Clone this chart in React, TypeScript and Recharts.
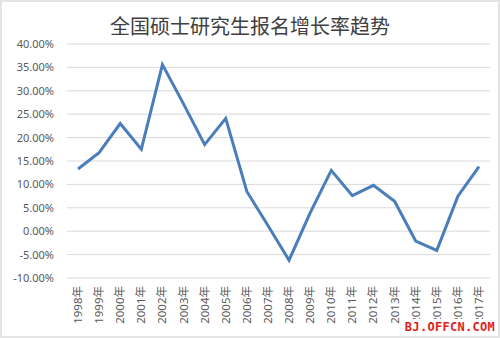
import React from "react";
import { LineChart, Line, XAxis, YAxis, CartesianGrid } from "recharts";

const years = [
  "1998年", "1999年", "2000年", "2001年", "2002年", "2003年", "2004年", "2005年",
  "2006年", "2007年", "2008年", "2009年", "2010年", "2011年", "2012年", "2013年",
  "2014年", "2015年", "2016年", "2017年",
];
const growth = [
  0.133, 0.168, 0.23, 0.175, 0.356, 0.272, 0.185, 0.241,
  0.085, 0.012, -0.062, 0.039, 0.13, 0.076, 0.098, 0.064,
  -0.021, -0.041, 0.075, 0.138,
];
const yTicks = [-0.1, -0.05, 0, 0.05, 0.1, 0.15, 0.2, 0.25, 0.3, 0.35, 0.4];
const title = "全国硕士研究生报名增长率趋势";
const watermark = "BJ.OFFCN.COM";

const data = years.map((y, i) => ({ year: y, value: growth[i] }));

const FONT = '"Noto Sans", "Noto Sans CJK SC", sans-serif';

const XTick = (props: any) => {
  const { x, y, payload } = props;
  return (
    <text
      x={0}
      y={0}
      transform={`translate(${x + 4},${y}) rotate(-90)`}
      textAnchor="end"
      fill="#595959"
      fontSize={11.5}
      fontFamily={FONT}
    >
      {payload.value}
    </text>
  );
};

export default function App() {
  return (
    <div
      style={{
        position: "absolute",
        left: 0,
        top: 0,
        width: 500,
        height: 338,
        background: "#fff",
        overflow: "hidden",
      }}
    >
      <div
        style={{
          position: "absolute",
          left: 0,
          top: 12,
          width: 500,
          textAlign: "center",
          fontFamily: '"Noto Sans CJK SC", sans-serif',
          fontSize: 20,
          color: "#404040",
          lineHeight: "28px",
        }}
      >
        {title}
      </div>
      <LineChart
        width={500}
        height={338}
        data={data}
        margin={{ top: 44, right: 10, bottom: 0, left: 0 }}
      >
        <CartesianGrid vertical={false} stroke="#d9d9d9" strokeWidth={1} />
        <XAxis
          dataKey="year"
          interval={0}
          axisLine={false}
          tickLine={false}
          tickSize={0}
          tickMargin={8}
          height={60}
          padding={{ left: 11, right: 11 }}
          tick={<XTick />}
        />
        <YAxis
          domain={[-0.1, 0.4]}
          ticks={yTicks}
          interval={0}
          axisLine={false}
          tickLine={false}
          tickSize={0}
          tickMargin={13}
          width={67}
          tick={{ fill: "#595959", fontSize: 11, fontFamily: FONT }}
          tickFormatter={(v: number) => `${(v * 100).toFixed(2)}%`}
        />
        <Line
          type="linear"
          dataKey="value"
          stroke="#4a7ebb"
          strokeWidth={3}
          dot={false}
          isAnimationActive={false}
        />
      </LineChart>
      <div
        style={{
          position: "absolute",
          left: 402,
          top: 319,
          width: 96,
          height: 17,
          background: "#fff",
          color: "#e0201b",
          fontFamily: '"DejaVu Sans Mono", monospace',
          fontWeight: "bold",
          fontSize: 12,
          lineHeight: "17px",
          textAlign: "center",
          letterSpacing: 0.3,
          whiteSpace: "nowrap",
        }}
      >
        {watermark}
      </div>
      <div
        style={{
          position: "absolute",
          left: 0,
          top: 0,
          width: 500,
          height: 338,
          boxSizing: "border-box",
          border: "2px solid #e4e4e4",
          pointerEvents: "none",
        }}
      />
    </div>
  );
}
